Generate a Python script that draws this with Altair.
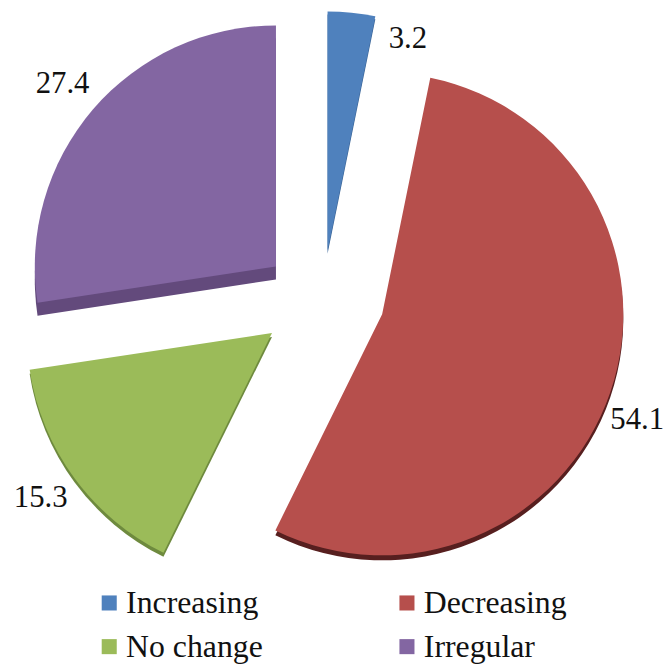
import altair as alt
import pandas as pd

categories = ["Increasing", "Decreasing", "No change", "Irregular"]
values = [3.2, 54.1, 15.3, 27.4]
colors = ["#4f81bd", "#b64f4c", "#9bbb59", "#8366a2"]
dark = ["#3a6496", "#571f1f", "#6e8a3e", "#634a7c"]

# exploded-slice geometry, in page pixels
centers = [(330, 250), (385, 314), (274, 333), (278, 266)]
radii = [241, 243, 247, 243]
depths = [3, 5, 4, 13]
label_pos = [(411, 37), (642, 421), (41, 499), (63, 82)]
PAGE = 8

rows = []
start = 0.0
for c, v in zip(categories, values):
    rows.append({"category": c, "value": v, "start": start, "end": start + v})
    start += v
df = pd.DataFrame(rows)

theta_scale = alt.Scale(domain=[0, 100], range=[0, 6.283185307])
color_scale = alt.Scale(domain=categories, range=colors)

layers = []
for i, c in enumerate(categories):
    sub = df[df.category == c]
    cx, cy = centers[i]
    layers.append(
        alt.Chart(sub).mark_arc(radius=radii[i]).encode(
            theta=alt.Theta("start:Q", scale=theta_scale),
            theta2="end:Q",
            x=alt.value(cx - PAGE),
            y=alt.value(cy - PAGE + depths[i]),
            color=alt.value(dark[i]),
        )
    )
for i, c in enumerate(categories):
    sub = df[df.category == c]
    cx, cy = centers[i]
    layers.append(
        alt.Chart(sub).mark_arc(radius=radii[i]).encode(
            theta=alt.Theta("start:Q", scale=theta_scale),
            theta2="end:Q",
            x=alt.value(cx - PAGE),
            y=alt.value(cy - PAGE),
            color=alt.Color(
                "category:N",
                scale=color_scale,
                sort=categories,
                legend=alt.Legend(
                    orient="none", legendX=86, legendY=581, columns=2, title=None,
                    direction="horizontal",
                    symbolType="square", symbolSize=230, symbolStrokeWidth=0,
                    labelFont="Liberation Serif", labelFontSize=32, labelColor="#111111",
                    labelLimit=300, columnPadding=129, rowPadding=12, labelOffset=1,
                ),
            ),
        )
    )
for i, c in enumerate(categories):
    sub = df[df.category == c]
    lx, ly = label_pos[i]
    layers.append(
        alt.Chart(sub).mark_text(
            font="Liberation Serif", fontSize=31, color="#111111",
            align="center", baseline="middle",
        ).encode(
            text=alt.Text("value:Q", format=".1f"),
            x=alt.value(lx - PAGE),
            y=alt.value(ly - PAGE),
        )
    )

chart = alt.layer(*layers).properties(
    width=660, height=658, padding=0, autosize=alt.AutoSizeParams(type="none"),
).configure_view(stroke=None)

chart.save("out.html", embed_options={"renderer": "svg", "actions": False})
